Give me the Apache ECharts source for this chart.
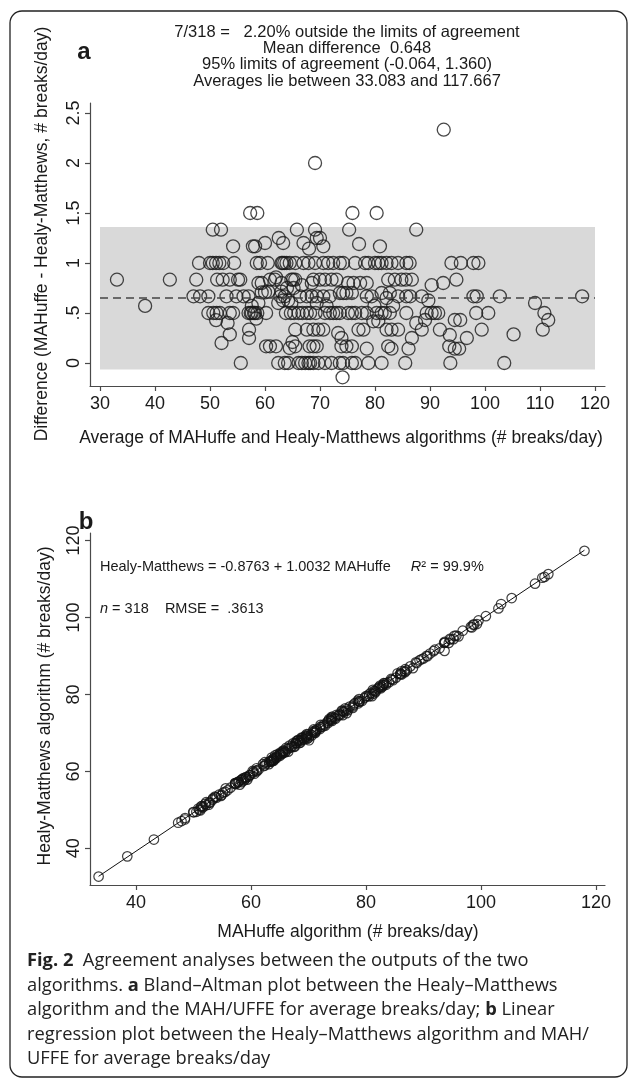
<!DOCTYPE html>
<html>
<head>
<meta charset="utf-8">
<script src="https://cdn.jsdelivr.net/npm/echarts@6.0.0/dist/echarts.min.js"></script>
<style>
  html, body { margin: 0; padding: 0; background: #fff; }
  #chart { width: 630px; height: 1086px; }
</style>
</head>
<body>
<div id="chart"></div>
<script>
// panel a: [average of the two algorithms, MAHuffe - Healy-Matthews]
var baPoints = [
  [33.08,0.833],[38.2,0.571],[42.7,0.833],
  [47.0,0.667],[47.5,0.833],[48.0,1],[48.2,0.667],[49.7,0.667],[49.7,0.5],[50.0,1],[50.5,1],[50.5,1.333],
  [50.6,0.5],[51.1,1],[51.1,0.429],[51.2,0.5],[51.3,0.833],[51.7,1],[51.8,0.5],[52.0,1.333],[52.1,0.2],
  [52.3,0.833],[52.4,1],[53.0,0.667],[53.2,0.4],[53.6,0.833],[53.6,0.5],[53.6,0.286],[54.2,1.167],[54.2,0.5],
  [54.4,1],[54.8,0.667],[55.1,0.833],[55.5,0.833],[55.6,0],[56.1,0.667],[57.0,0.667],[57.0,0.5],[57.1,0.333],
  [57.1,0.25],[57.3,1.5],[57.4,0.5],[57.6,0.571],[57.6,0.5],[57.8,1.167],[58.0,0.5],[58.2,1.167],[58.2,0.5],
  [58.4,0.444],[58.5,1],[58.6,1.5],[58.6,0.5],[58.8,0.8],[58.8,0.6],[59.1,1],[59.4,0.8],[59.4,0.706],
  [60.0,1.2],[60.0,0.706],[60.2,0.5],[60.2,0.167],[60.5,1],[60.6,0.714],[60.9,0.833],[60.9,0.167],[61.8,0.833],
  [62.0,0.857],[62.0,0.167],[62.4,0.6],[62.4,0],[62.5,1.25],[62.8,0.667],[63.0,1],[63.0,0.714],[63.0,0.8],
  [63.2,1],[63.3,1.2],[63.3,0.625],[63.5,1],[63.6,0.667],[63.6,0],[63.8,0.5],[63.9,1],[64.0,0.75],[64.2,0.625],
  [64.2,0],[64.5,1],[64.5,0.15],[64.7,0.5],[64.8,0.833],[64.8,0.6],[65.0,0.21],[65.1,0.833],[65.2,0.75],
  [65.3,0.5],[65.5,1],[65.5,0.833],[65.5,0.333],[65.5,0.167],[65.8,1.333],[66.1,0.5],[66.1,0],[66.4,0.667],
  [66.7,0.778],[66.7,0],[66.8,0.5],[67.0,1.2],[67.0,1],[67.3,0],[67.6,0.667],[67.6,0.5],[67.6,0.333],[67.9,1],
  [67.9,0],[68.0,1.143],[68.1,0.167],[68.2,0.5],[68.2,0],[68.5,0.8],[68.5,0.667],[68.8,0.833],[68.8,0.333],
  [68.8,0.167],[68.8,0],[69.1,2],[69.1,1.333],[69.1,1],[69.2,0.5],[69.4,1.25],[69.4,0.667],[69.4,0.6],
  [69.4,0.167],[69.7,0.333],[69.7,0],[70.0,1.25],[70.0,0.833],
  [70.6,1.167],[70.6,1],[70.6,0.667],[70.6,0.333],[70.9,0.833],[70.9,0.5],[70.9,0],[71.2,0.571],[71.5,1],
  [71.8,0.667],[71.8,0.5],[72.1,0.833],[72.1,0],[72.4,1],[72.4,0.5],[73.0,0.833],[73.0,0.5],[73.3,0.3],
  [73.6,1],[73.6,0.7],[73.6,0.5],[73.6,0],[73.9,0.25],[73.9,0.167],[74.1,-0.143],[74.2,1],[74.2,0.7],[74.2,0],
  [74.8,0.7],[74.8,0.167],[75.1,0.8],[75.1,0.5],[75.3,1.333],[75.8,0.7],[75.8,0.5],[75.8,0.167],[75.8,0],
  [75.9,1.5],[76.1,0.8],[76.4,1],[76.4,0.5],[76.4,0],[77.0,0.333],[77.1,1.19],[77.3,0.8],[77.6,0.5],[77.9,0.333],
  [78.2,1],[78.5,0.8],[78.5,0.667],[78.5,0.5],[78.5,0.143],[78.8,1],[78.8,0],[79.4,0.667],[79.7,0.417],
  [79.9,0.571],[80.0,1],[80.3,1.5],[80.3,0.5],[80.6,1],[80.6,0.417],[80.9,1.167],[81.2,1],[81.2,0.7],[81.2,0.5],
  [81.2,0],[81.8,0.5],[82.1,1],[82.1,0.65],[82.1,0.333],[82.4,0.833],[82.4,0.167],[82.7,0.7],[82.7,0.5],
  [83.0,1],[83.0,0.333],[83.0,0.143],[83.3,0.571],[83.6,0.833],[84.2,1],[84.2,0.667],[84.2,0.333],[84.8,0.833],
  [85.5,0],[85.6,0.833],[85.7,1],[85.7,0.667],[85.7,0.5],[86.1,0.143],[86.3,1],[86.4,0.667],[86.7,0.833],
  [86.7,0.25],[87.5,1.333],[87.5,0.4],[88.5,0.667],[88.5,0.333],[89.1,0.43],[89.4,0.5],[89.7,0.625],
  [90.3,0.778],[90.3,0.5],[90.9,0.5],[91.5,0.5],[91.8,0.333],[92.4,0.8],[92.5,2.333],
  [93.5,0.167],[93.6,0.28],[93.7,0],[93.9,1],[94.5,0.43],[94.5,0.143],[94.8,0.833],[95.3,0.143],[95.5,0.43],
  [95.6,1],[96.7,0.25],[97.9,1],[97.9,0.667],[98.4,0.5],[98.5,0.667],[98.8,1],[99.4,0.333],[100.6,0.5],
  [102.7,0.667],[103.5,0],[105.2,0.286],[109.1,0.6],[110.5,0.333],[110.8,0.5],[111.5,0.43],[117.667,0.667]
];
var meanDiff = 0.648;
var loaLower = -0.064;
var loaUpper = 1.360;
var bandRange = [30, 120];

var fitIntercept = -0.8763;
var fitSlope = 1.0032;

var aXTicks = [30, 40, 50, 60, 70, 80, 90, 100, 110, 120];
var aYTicks = [0, 0.5, 1, 1.5, 2, 2.5];
var bXTicks = [40, 60, 80, 100, 120];
var bYTicks = [40, 60, 80, 100, 120];

var headerLines = [
  '7/318 =   2.20% outside the limits of agreement',
  'Mean difference  0.648',
  '95% limits of agreement (-0.064, 1.360)',
  'Averages lie between 33.083 and 117.667'
];
var captionLines = [
  '{b|Fig. 2}  Agreement analyses between the outputs of the two',
  'algorithms. {b|a} Bland\u2013Altman plot between the Healy\u2013Matthews',
  'algorithm and the MAH/UFFE for average breaks/day; {b|b} Linear',
  'regression plot between the Healy\u2013Matthews algorithm and MAH/',
  'UFFE for average breaks/day'
];

// panel b: MAHuffe (x) vs Healy-Matthews (y), same pairs as panel a
var regPoints = baPoints.map(function (p) {
  return [p[0] + p[1] / 2, p[0] - p[1] / 2];
});
var regX = regPoints.map(function (p) { return p[0]; });
var xLo = Math.min.apply(null, regX), xHi = Math.max.apply(null, regX);
var fitLine = [[xLo, fitIntercept + fitSlope * xLo], [xHi, fitIntercept + fitSlope * xHi]];

var FONT = '"Liberation Sans", Arial, Helvetica, sans-serif';
var CAP_FONT = '"Open Sans", "Noto Sans", sans-serif';
var AXIS_COLOR = '#4a4a4a';

function stataNum(v) {
  var s = String(v);
  return (v > 0 && v < 1) ? s.replace(/^0/, '') : s;
}

function valueAxis(grid, min, max, ticks, rotate, margin) {
  return {
    type: 'value',
    gridIndex: grid,
    min: min,
    max: max,
    axisLine: { show: true, onZero: false, lineStyle: { color: AXIS_COLOR, width: 1.2 } },
    axisTick: { show: true, length: 5, customValues: ticks, lineStyle: { color: AXIS_COLOR, width: 1.2 } },
    axisLabel: {
      customValues: ticks,
      formatter: stataNum,
      rotate: rotate,
      margin: margin,
      fontSize: 18,
      fontFamily: FONT,
      color: '#1a1a1a'
    },
    splitLine: { show: false }
  };
}

function txt(x, y, text, size, extra) {
  var st = {
    text: text,
    fontSize: size,
    fontFamily: FONT,
    fill: '#1a1a1a',
    align: 'center',
    verticalAlign: 'middle'
  };
  extra = extra || {};
  for (var k in extra.style || {}) st[k] = extra.style[k];
  return { type: 'text', x: x, y: y, rotation: extra.rotation || 0, silent: true, style: st };
}

var graphics = [
  { type: 'rect', shape: { x: 10, y: 11, width: 617, height: 1066, r: 12 },
    style: { fill: 'none', stroke: '#222', lineWidth: 1.3 }, silent: true, z: -10 },
  txt(84, 52, 'a', 24, { style: { fontWeight: 'bold' } }),
  txt(86, 522, 'b', 24, { style: { fontWeight: 'bold' } }),
  txt(42, 234, 'Difference (MAHuffe - Healy-Matthews, # breaks/day)', 17.5, { rotation: Math.PI / 2 }),
  txt(341, 438, 'Average of MAHuffe and Healy-Matthews algorithms (# breaks/day)', 17.5),
  txt(45, 706, 'Healy-Matthews algorithm (# breaks/day)', 17.5, { rotation: Math.PI / 2 }),
  txt(348, 932, 'MAHuffe algorithm (# breaks/day)', 17.5),
  txt(100, 567, 'Healy-Matthews = -0.8763 + 1.0032 MAHuffe     {i|R}\u00b2 = 99.9%', 14.5,
      { style: { align: 'left', rich: { i: { fontStyle: 'italic', fontSize: 14.5, fontFamily: FONT } } } }),
  txt(100, 609, '{i|n} = 318    RMSE =  .3613', 14.5,
      { style: { align: 'left', rich: { i: { fontStyle: 'italic', fontSize: 14.5, fontFamily: FONT } } } })
];
headerLines.forEach(function (line, i) {
  graphics.push(txt(347, 32 + i * 16.4, line, 16.5));
});
captionLines.forEach(function (line, i) {
  graphics.push(txt(27, 961 + i * 24.5, line, 18.3, {
    style: {
      align: 'left',
      fontFamily: CAP_FONT,
      fill: '#222',
      rich: { b: { fontWeight: 'bold', fontSize: 18.3, fontFamily: CAP_FONT, fill: '#222' } }
    }
  }));
});

var chart = echarts.init(document.getElementById('chart'), null, { renderer: 'canvas' });
chart.setOption({
  animation: false,
  backgroundColor: '#fff',
  grid: [
    { left: 90, top: 103, width: 515, height: 283 },
    { left: 90, top: 533, width: 515, height: 352 }
  ],
  xAxis: [
    valueAxis(0, 28.18, 121.82, aXTicks, 0, 9),
    valueAxis(1, 32, 121.57, bXTicks, 0, 9)
  ],
  yAxis: [
    valueAxis(0, -0.23, 2.6, aYTicks, 90, 7),
    valueAxis(1, 30.47, 121.97, bYTicks, 90, 7)
  ],
  series: [
    {
      type: 'line', xAxisIndex: 0, yAxisIndex: 0, data: [], z: 1, silent: true,
      markArea: {
        silent: true,
        itemStyle: { color: '#d9d9d9' },
        data: [[{ coord: [bandRange[0], loaLower] }, { coord: [bandRange[1], loaUpper] }]]
      },
      markLine: {
        silent: true,
        symbol: ['none', 'none'],
        label: { show: false },
        lineStyle: { type: [8, 5], color: '#444', width: 1.6 },
        data: [[{ coord: [bandRange[0], meanDiff] }, { coord: [bandRange[1], meanDiff] }]]
      }
    },
    {
      type: 'scatter', xAxisIndex: 0, yAxisIndex: 0, z: 3,
      data: baPoints,
      symbol: 'circle',
      symbolSize: 13,
      itemStyle: { color: 'rgba(0,0,0,0)', borderColor: '#1a1a1a', borderWidth: 1.3 }
    },
    {
      type: 'line', xAxisIndex: 1, yAxisIndex: 1, z: 2,
      data: fitLine, symbol: 'none',
      lineStyle: { color: '#111', width: 1 }
    },
    {
      type: 'scatter', xAxisIndex: 1, yAxisIndex: 1, z: 3,
      data: regPoints,
      symbol: 'circle',
      symbolSize: 9.5,
      itemStyle: { color: 'rgba(0,0,0,0)', borderColor: '#111', borderWidth: 1.2 }
    }
  ],
  graphic: graphics
});
</script>
</body>
</html>
